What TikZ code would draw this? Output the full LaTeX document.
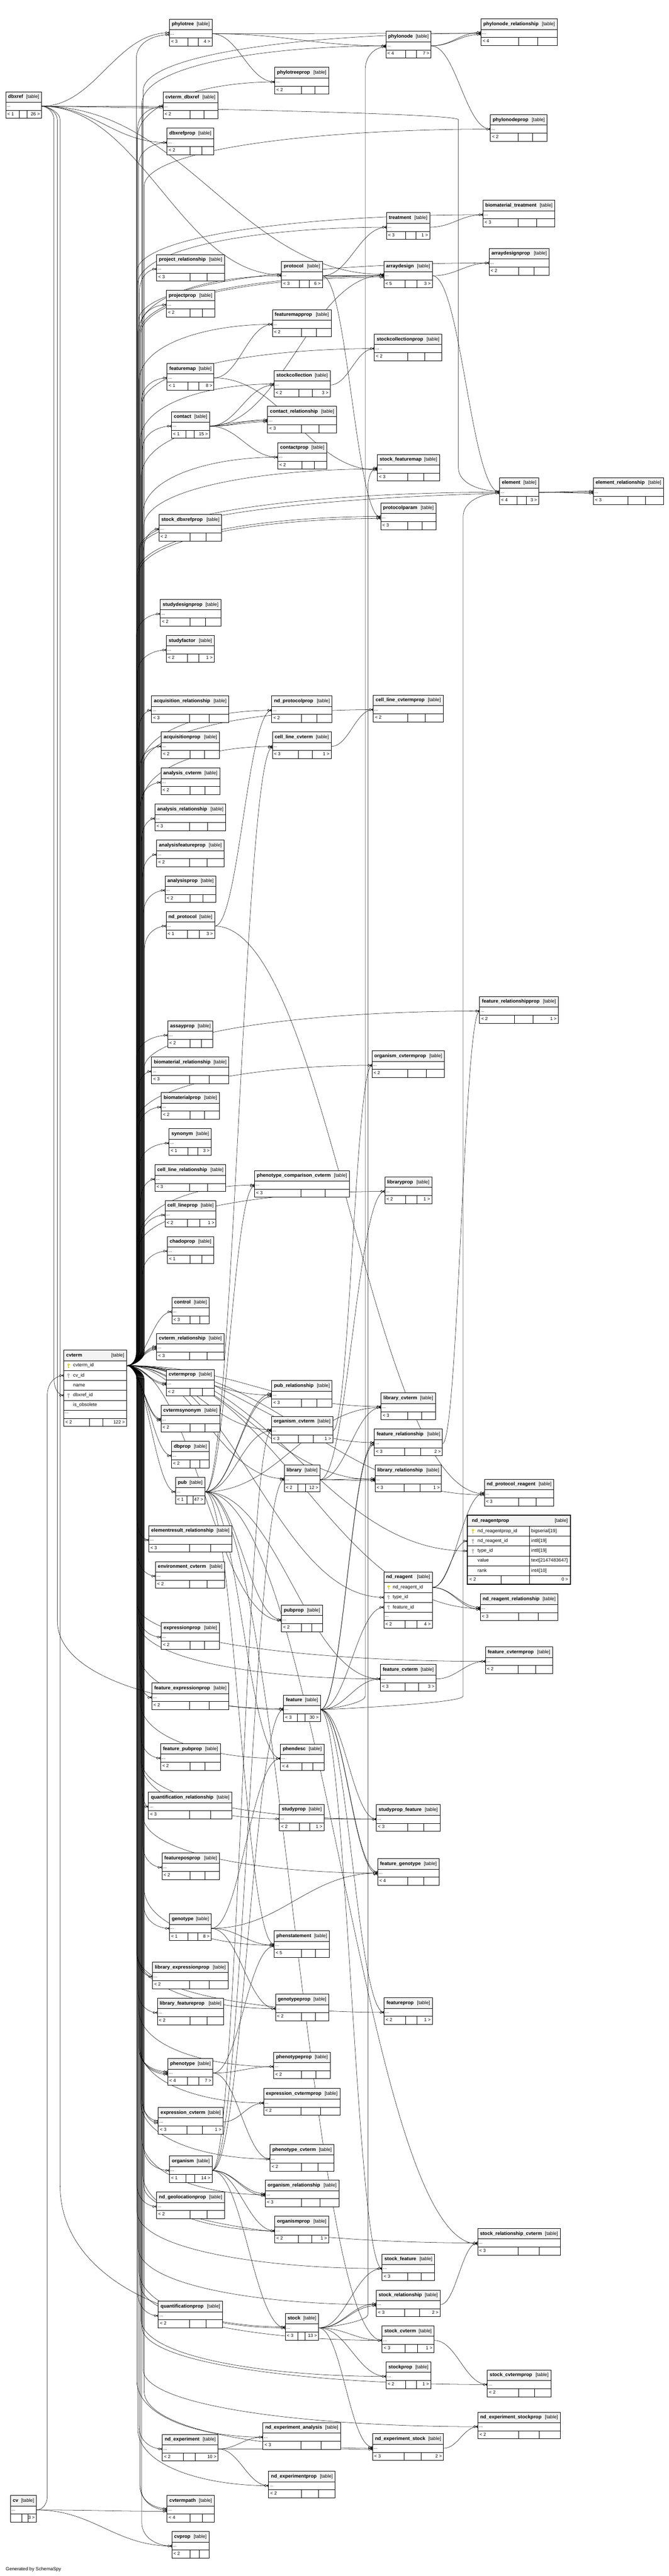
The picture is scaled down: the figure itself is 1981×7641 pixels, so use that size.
\documentclass[tikz,border=0pt]{standalone}
\usepackage{fontspec}
\setmainfont{Liberation Sans}
\usetikzlibrary{calc}
\pgfdeclarelayer{background}
\pgfsetlayers{background,main}
\definecolor{hdrgray}{RGB}{243,243,243}
\definecolor{keyyellow}{RGB}{214,204,18}
\definecolor{keygray}{RGB}{168,168,168}
\tikzset{
  every node/.style={inner sep=0pt, outer sep=0pt},
  ttl/.style={font=\fontsize{14.5}{17}\selectfont\bfseries, anchor=west, text height=10.5pt, text depth=3pt},
  tagtext/.style={font=\fontsize{14}{17}\selectfont, anchor=east, text height=10.5pt, text depth=3pt},
  celltext/.style={font=\fontsize{13.5}{16}\selectfont, text height=10pt, text depth=3pt},
  coltext/.style={font=\fontsize{14}{16}\selectfont, anchor=west, text height=10pt, text depth=3pt},
  tblborder/.style={draw=black, line width=1.3pt},
  cellline/.style={draw=black, line width=1pt},
  fk/.style={draw=black, line width=0.8pt},
  crowfoot/.pic={
    \draw[line width=0.9pt] (-6,0) -- (0,-3.6) (-6,0) -- (0,3.6) (-6,0) -- (0,0);
    \draw[line width=0.9pt, fill=white] (-9.5,0) circle (3);
  },
  pkey/.pic={
    \fill[keyyellow] (0,-3) circle (3.3);
    \fill[white] (0,-3.5) circle (1.1);
    \draw[keyyellow, line width=1.7pt] (0,-0.5) -- (0,7);
    \draw[keyyellow, line width=1.3pt] (0,3.5) -- (2.4,3.5) (0,6) -- (2,6);
  },
  fkey/.pic={
    \fill[keygray] (0,-3) circle (3.3);
    \fill[white] (0,-3.5) circle (1.1);
    \draw[keygray, line width=1.7pt] (0,-0.5) -- (0,7);
    \draw[keygray, line width=1.3pt] (0,3.5) -- (2.4,3.5) (0,6) -- (2,6);
  }
}
% table: #1 name, #2 left x, #3 top y, #4 width, #5 parents, #6 children
\newcommand\tbl[6]{%
  \def\tblR{#6}\def\tblL{#5}%
  \ifx\tblR\empty\def\tblfa{0.49}\def\tblfb{0.745}\else
    \ifnum#6>9 \def\tblfa{0.38}\def\tblfb{0.59}\else\def\tblfa{0.44}\def\tblfb{0.68}\fi\fi
  \node[fill=white, minimum width=#4pt, minimum height=79pt, anchor=north west] (#1) at (#2,#3) {};
  \fill[hdrgray] (#2,#3) rectangle ++(#4,31);
  \draw[cellline] (#2,{#3+31}) -- ++(#4,0) (#2,{#3+55}) -- ++(#4,0)
     ({#2+\tblfa*#4},{#3+55}) -- ++(0,24) ({#2+\tblfb*#4},{#3+55}) -- ++(0,24);
  \draw[tblborder] (#2,#3) rectangle ++(#4,79);
  \node[ttl] at ({#2+7},{#3+15.5}) {#1};
  \node[tagtext] at ({#2+#4-7},{#3+15.5}) {[table]};
  \node[celltext, anchor=west] at ({#2+3},{#3+42}) {...};
  \ifx\tblL\empty\else\node[celltext, anchor=west] at ({#2+5},{#3+67}) {< #5};\fi
  \ifx\tblR\empty\else\node[celltext, anchor=east] at ({#2+#4-5},{#3+67}) {#6 >};\fi
  \coordinate (#1-in) at (#2,{#3+43});
  \coordinate (#1-out) at ({#2+#4},{#3+43});
}
% connector between two named coordinates
\newcommand\fkraw[3][0]{%
  \draw[fk] let \p1=(#2), \p2=($(#3)+(0,#1)$), \n1={max(35,0.42*abs(\x2-\x1))} in
    (\p1) .. controls +(\n1,0) and +(-\n1,0) .. (\p2) pic {crowfoot};}
\newcommand\fk[3][0]{\fkraw[#1]{#2-out}{#3-in}}
% connector running along a vertical lane at x=#4, approach length #5
\newcommand\lane[5][0]{%
  \draw[fk] let \p1=(#2), \p2=($(#3)+(0,#1)$), \n1={ifthenelse(\y2>\y1,1,-1)} in
    (\p1) .. controls ({\x1+18},\y1) and ({#4pt},{\y1+(\n1)*18}) .. ({#4pt},{\y1+(\n1)*40})
    -- ({#4pt},{\y2-(\n1)*#5})
    .. controls ({#4pt},{\y2-(\n1)*#5*0.35}) and ({0.5*(\x2+#4pt)},\y2) .. (\p2) pic {crowfoot};}
\newcommand\cvl[3][0]{\lane[#1]{cvterm-out}{#2-in}{#3}{70}}
\newcommand\cvf[3][0]{\lane[#1]{cvterm-out}{#2-in}{#3}{170}}

\begin{document}
\catcode`\_=12
\begin{tikzpicture}[x=1pt,y=-1pt]
\useasboundingbox (0,0) rectangle (1981,7641);

% ---------------- tables ----------------
\tbl{dbxref}{17}{272}{106}{1}{26}
\tbl{phylotree}{502}{57}{126}{3}{4}
\tbl{phylotreeprop}{814}{200}{160}{2}{}
\tbl{cvterm_dbxref}{483}{273}{162}{2}{}
\tbl{dbxrefprop}{495}{380}{138}{2}{}
\tbl{project_relationship}{464}{755}{201}{3}{}
\tbl{projectprop}{493}{861}{143}{2}{}
\tbl{protocol}{834}{775}{121}{3}{6}
\tbl{featuremapprop}{807}{919}{174}{2}{}
\tbl{featuremap}{495}{1078}{139}{1}{8}
\tbl{stockcollection}{812}{1099}{166}{2}{3}
\tbl{contact}{508}{1221}{113}{1}{15}
\tbl{contact_relationship}{793}{1205}{204}{3}{}
\tbl{phylonode_relationship}{1425}{56}{226}{4}{}
\tbl{phylonode}{1143}{93}{134}{4}{7}
\tbl{phylonodeprop}{1453}{340}{168}{2}{}
\tbl{biomaterial_treatment}{1431}{594}{213}{3}{}
\tbl{treatment}{1145}{631}{128}{3}{1}
\tbl{arraydesignprop}{1449}{737}{178}{2}{}
\tbl{arraydesign}{1137}{775}{144}{5}{3}
\tbl{stockcollectionprop}{1109}{991}{200}{2}{}
\tbl{contactprop}{823}{1313}{145}{2}{}
\tbl{stock_featuremap}{1118}{1348}{184}{3}{}
\tbl{element}{1480}{1417}{116}{4}{3}
\tbl{element_relationship}{1758}{1417}{208}{3}{}
\tbl{protocolparam}{1128}{1492}{164}{3}{}
\tbl{stock_dbxrefprop}{471}{1526}{186}{2}{}
\tbl{studydesignprop}{475}{1778}{179}{2}{}
\tbl{studyfactor}{493}{1885}{142}{2}{1}
\tbl{acquisition_relationship}{449}{2064}{229}{3}{}
\tbl{nd_protocolprop}{805}{2064}{179}{2}{}
\tbl{cell_line_cvtermprop}{1106}{2062}{207}{2}{}
\tbl{acquisitionprop}{478}{2171}{172}{2}{}
\tbl{cell_line_cvterm}{807}{2171}{174}{3}{1}
\tbl{analysis_cvterm}{477}{2278}{174}{2}{}
\tbl{analysis_relationship}{459}{2385}{210}{3}{}
\tbl{analysisfeatureprop}{464}{2492}{200}{2}{}
\tbl{analysisprop}{489}{2598}{151}{2}{}
\tbl{nd_protocol}{492}{2704}{144}{1}{3}
\tbl{feature_relationshipprop}{1421}{2956}{233}{2}{1}
\tbl{assayprop}{497}{3028}{134}{2}{}
\tbl{organism_cvtermprop}{1102}{3117}{215}{2}{}
\tbl{biomaterial_relationship}{449}{3135}{229}{3}{}
\tbl{biomaterialprop}{478}{3241}{172}{2}{}
\tbl{synonym}{501}{3348}{125}{1}{3}
\tbl{cell_line_relationship}{459}{3455}{210}{3}{}
\tbl{phenotype_comparison_cvterm}{754}{3472}{281}{3}{}
\tbl{libraryprop}{1140}{3491}{139}{2}{1}
\tbl{cell_lineprop}{489}{3561}{151}{2}{1}
\tbl{chadoprop}{496}{3668}{137}{1}{}
\tbl{control}{509}{3848}{111}{3}{}
\tbl{cvterm_relationship}{464}{3955}{200}{3}{}
\tbl{cvtermprop}{493}{4062}{142}{2}{}
\tbl{pub_relationship}{805}{4095}{179}{3}{}
\tbl{library_cvterm}{1129}{4132}{161}{3}{}
\tbl{cvtermsynonym}{477}{4168}{174}{2}{}
\tbl{organism_cvterm}{804}{4201}{182}{3}{1}
\tbl{feature_relationship}{1109}{4239}{202}{3}{2}
\tbl{dbprop}{508}{4275}{112}{2}{}
\tbl{library}{842}{4346}{106}{2}{12}
\tbl{library_relationship}{1111}{4346}{197}{3}{1}
\tbl{pub}{520}{4382}{87}{1}{47}
\tbl{nd_protocol_reagent}{1435}{4388}{206}{3}{}
\tbl{elementresult_relationship}{441}{4525}{246}{3}{}
\tbl{environment_cvterm}{461}{4632}{205}{2}{}
\tbl{nd_reagent_relationship}{1423}{4728}{230}{3}{}
\tbl{pubprop}{834}{4761}{121}{2}{}
\tbl{expressionprop}{478}{4813}{172}{2}{}
\tbl{feature_cvtermprop}{1438}{4885}{199}{2}{}
\tbl{feature_cvterm}{1127}{4937}{165}{3}{3}
\tbl{feature_expressionprop}{450}{4992}{228}{2}{}
\tbl{feature}{840}{5028}{109}{3}{30}
\tbl{feature_pubprop}{476}{5172}{177}{2}{}
\tbl{phendesc}{831}{5173}{129}{4}{}
\tbl{quantification_relationship}{440}{5316}{247}{3}{}
\tbl{studyprop}{828}{5352}{132}{2}{1}
\tbl{studyprop_feature}{1115}{5353}{189}{3}{}
\tbl{featureposprop}{480}{5496}{170}{2}{}
\tbl{feature_genotype}{1119}{5513}{182}{4}{}
\tbl{genotype}{502}{5677}{124}{1}{8}
\tbl{phenstatement}{812}{5727}{164}{5}{}
\tbl{library_expressionprop}{452}{5820}{224}{2}{}
\tbl{genotypeprop}{816}{5915}{158}{2}{}
\tbl{featureprop}{1138}{5926}{143}{2}{1}
\tbl{library_featureprop}{466}{5927}{197}{2}{}
\tbl{phenotypeprop}{811}{6087}{167}{2}{}
\tbl{phenotype}{497}{6106}{134}{4}{7}
\tbl{expression_cvtermprop}{781}{6195}{226}{2}{}
\tbl{expression_cvterm}{469}{6251}{192}{3}{1}
\tbl{phenotype_cvterm}{800}{6361}{190}{2}{}
\tbl{organism}{502}{6395}{126}{1}{14}
\tbl{organism_relationship}{786}{6467}{218}{3}{}
\tbl{nd_geolocationprop}{464}{6502}{201}{2}{}
\tbl{organismprop}{814}{6574}{160}{2}{1}
\tbl{stock_relationship_cvterm}{1415}{6610}{245}{3}{}
\tbl{stock_feature}{1132}{6686}{156}{3}{}
\tbl{stock_relationship}{1115}{6793}{189}{3}{2}
\tbl{quantificationprop}{469}{6826}{190}{2}{}
\tbl{stock}{845}{6862}{99}{3}{13}
\tbl{stock_cvterm}{1132}{6899}{154}{3}{1}
\tbl{stockprop}{1144}{7006}{132}{2}{1}
\tbl{stock_cvtermprop}{1444}{7030}{188}{2}{}
\tbl{nd_experiment_stockprop}{1416}{7155}{244}{2}{}
\tbl{nd_experiment_analysis}{779}{7186}{230}{3}{}
\tbl{nd_experiment_stock}{1104}{7219}{210}{3}{2}
\tbl{nd_experiment}{481}{7221}{165}{2}{10}
\tbl{nd_experimentprop}{796}{7330}{197}{2}{}
\tbl{cv}{31}{7402}{77}{}{3}
\tbl{cvtermpath}{495}{7402}{140}{4}{}
\tbl{cvprop}{509}{7509}{110}{2}{}

% ---- cvterm (with columns) ----
\node[fill=white, minimum width=186pt, minimum height=226pt, anchor=north west] (cvterm) at (189,4005) {};
\fill[hdrgray] (189,4005) rectangle ++(186,31);
\foreach \yy in {31,60.4,89.8,119.2,148.6,178,202} \draw[cellline] (189,{4005+\yy}) -- ++(186,0);
\draw[cellline] (265,4207) -- (265,4231) (304,4207) -- (304,4231);
\draw[tblborder] (189,4005) rectangle ++(186,226);
\node[ttl] at (196,4020.5) {cvterm};
\node[tagtext] at (368,4020.5) {[table]};
\pic at (203,4050.7) {pkey};
\node[coltext] at (217,4050.7) {cvterm_id};
\pic at (203,4080.1) {fkey};
\node[coltext] at (217,4080.1) {cv_id};
\node[coltext] at (217,4109.5) {name};
\pic at (203,4138.9) {fkey};
\node[coltext] at (217,4138.9) {dbxref_id};
\node[coltext] at (217,4168.3) {is_obsolete};
\node[celltext, anchor=west] at (192,4189) {...};
\node[celltext, anchor=west] at (194,4219) {< 2};
\node[celltext, anchor=east] at (370,4219) {122 >};
\coordinate (cvterm-out) at (375,4050.7);
\coordinate (cvterm-cv) at (189,4080.1);
\coordinate (cvterm-dbx) at (189,4138.9);

% ---- nd_reagent (with columns) ----
\node[fill=white, minimum width=144pt, minimum height=167.2pt, anchor=north west] (nd_reagent) at (1137,4663) {};
\fill[hdrgray] (1137,4663) rectangle ++(144,31);
\foreach \yy in {31,60.4,89.8,119.2,143.2} \draw[cellline] (1137,{4663+\yy}) -- ++(144,0);
\draw[cellline] (1200,4806.2) -- (1200,4830.2) (1235,4806.2) -- (1235,4830.2);
\draw[tblborder] (1137,4663) rectangle ++(144,167.2);
\node[ttl] at (1144,4678.5) {nd_reagent};
\node[tagtext] at (1274,4678.5) {[table]};
\pic at (1151,4708.7) {pkey};
\node[coltext] at (1164,4708.7) {nd_reagent_id};
\pic at (1151,4738.1) {fkey};
\node[coltext] at (1164,4738.1) {type_id};
\pic at (1151,4767.5) {fkey};
\node[coltext] at (1164,4767.5) {feature_id};
\node[celltext, anchor=west] at (1140,4793) {...};
\node[celltext, anchor=west] at (1142,4818) {< 2};
\node[celltext, anchor=east] at (1276,4818) {4 >};
\coordinate (nd_reagent-out) at (1281,4708.7);
\coordinate (ndr-type) at (1137,4738.1);
\coordinate (ndr-feat) at (1137,4767.5);

% ---- nd_reagentprop (focus table) ----
\node[fill=white, minimum width=305pt, minimum height=204.5pt, anchor=north west] (nd_reagentprop) at (1385,4494) {};
\fill[hdrgray] (1385,4494) rectangle ++(305,33);
\foreach \yy in {33,62.4,91.8,121.2,150.6,180} \draw[cellline] (1385,{4494+\yy}) -- ++(305,0);
\draw[cellline] (1569,4527) -- (1569,4698.5) (1484,4674) -- (1484,4698.5);
\draw[draw=black, line width=3pt] (1385,4494) rectangle ++(305,204.5);
\node[ttl] at (1398,4510.5) {nd_reagentprop};
\node[tagtext] at (1682,4510.5) {[table]};
\pic at (1401,4541.7) {pkey};
\node[coltext] at (1415,4541.7) {nd_reagentprop_id};
\node[coltext] at (1574,4541.7) {bigserial[19]};
\pic at (1401,4571.1) {fkey};
\node[coltext] at (1415,4571.1) {nd_reagent_id};
\node[coltext] at (1574,4571.1) {int8[19]};
\pic at (1401,4600.5) {fkey};
\node[coltext] at (1415,4600.5) {type_id};
\node[coltext] at (1574,4600.5) {int8[19]};
\node[coltext] at (1415,4629.9) {value};
\node[coltext] at (1574,4629.9) {text[2147483647]};
\node[coltext] at (1415,4659.3) {rank};
\node[coltext] at (1574,4659.3) {int4[10]};
\node[celltext, anchor=west] at (1391,4686.3) {< 2};
\node[celltext, anchor=east] at (1683,4686.3) {0 >};
\coordinate (ndrp-rg) at (1385,4571.1);
\coordinate (ndrp-type) at (1385,4600.5);

\node[font=\fontsize{14}{16}\selectfont, anchor=west] (credit) at (17,7621) {Generated by SchemaSpy};

% ---------------- connectors ----------------
\begin{pgfonlayer}{background}
\fill[white] (0,0) rectangle (1981,7641);

% dbxref
\fk[-3]{dbxref}{phylotree}
\fk{dbxref}{cvterm_dbxref}
\fk{dbxref}{dbxrefprop}
\fk[-3]{dbxref}{protocol}
\fk[-4]{dbxref}{arraydesign}
\lane[-3]{dbxref-out}{element-in}{1358}{70}
\lane{dbxref-out}{cvterm-dbx}{160}{50}
\lane[-3]{dbxref-out}{feature-in}{170}{260}
\lane[-3]{dbxref-out}{stock-in}{178}{420}

% cv
\lane{cv-out}{cvterm-cv}{140}{60}
\fk[4]{cv}{cvtermpath}
\fk{cv}{cvprop}

% cvterm -> left column
\cvl[3]{phylotree}{404}
\cvl{cvterm_dbxref}{407}
\cvl{dbxrefprop}{410}
\cvl{project_relationship}{413}
\cvl{projectprop}{416}
\cvl{featuremap}{419}
\cvl{contact}{422}
\cvl{stock_dbxrefprop}{425}
\cvl{studydesignprop}{404}
\cvl{studyfactor}{407}
\cvl{acquisition_relationship}{410}
\cvl{acquisitionprop}{413}
\cvl{analysis_cvterm}{416}
\cvl{analysis_relationship}{419}
\cvl{analysisfeatureprop}{422}
\cvl{analysisprop}{425}
\cvl{nd_protocol}{428}
\cvl{assayprop}{404}
\cvl{biomaterial_relationship}{407}
\cvl{biomaterialprop}{410}
\cvl{synonym}{413}
\cvl{cell_line_relationship}{416}
\cvl{cell_lineprop}{419}
\cvl{chadoprop}{422}
\cvl{elementresult_relationship}{405}
\cvl{environment_cvterm}{408}
\cvl{expressionprop}{411}
\cvl{feature_expressionprop}{414}
\cvl{feature_pubprop}{417}
\cvl{quantification_relationship}{420}
\cvl{featureposprop}{423}
\cvl{genotype}{426}
\cvl{library_expressionprop}{405}
\cvl{library_featureprop}{408}
\cvl[-4]{phenotype}{411}
\cvl{phenotype}{414}
\cvl[4]{phenotype}{417}
\cvl[-3]{expression_cvterm}{420}
\cvl[3]{expression_cvterm}{423}
\cvl{organism}{426}
\cvl{nd_geolocationprop}{405}
\cvl{quantificationprop}{408}
\cvl{nd_experiment}{411}
\cvl[-4]{cvtermpath}{414}
\cvl{cvtermpath}{417}
\cvl{cvprop}{420}

% cvterm -> near tables
\fk{cvterm}{control}
\fk[-4]{cvterm}{cvterm_relationship}
\fk{cvterm}{cvterm_relationship}
\fk[4]{cvterm}{cvterm_relationship}
\fk[-2]{cvterm}{cvtermprop}
\fk[2]{cvterm}{cvtermprop}
\fk[-2]{cvterm}{cvtermsynonym}
\fk[2]{cvterm}{cvtermsynonym}
\fk{cvterm}{dbprop}
\fk{cvterm}{pub}
\fk{cvterm}{pub_relationship}
\fk[-3]{cvterm}{library_cvterm}
\fk[-3]{cvterm}{organism_cvterm}
\fk[-3]{cvterm}{feature_relationship}
\fk[-3]{cvterm}{library}
\fk{cvterm}{library_relationship}
\fk[3]{cvterm}{nd_protocol_reagent}
\fkraw{cvterm-out}{ndrp-type}
\fkraw{cvterm-out}{ndr-type}
\fk{cvterm}{nd_reagent_relationship}
\fk[3]{cvterm}{pubprop}

% cvterm -> far tables above
\cvf{phylotreeprop}{406}
\cvf{protocol}{409}
\cvf{featuremapprop}{412}
\cvf[-3]{stockcollection}{415}
\cvf{contact_relationship}{418}
\cvf{phylonode}{421}
\cvf{phylonode_relationship}{424}
\cvf{phylonodeprop}{427}
\cvf{biomaterial_treatment}{405}
\cvf{treatment}{408}
\cvf{arraydesignprop}{411}
\cvf{arraydesign}{414}
\cvf[4]{arraydesign}{417}
\cvf{stockcollectionprop}{420}
\cvf{contactprop}{423}
\cvf{stock_featuremap}{426}
\cvf[-3]{protocolparam}{406}
\cvf[3]{protocolparam}{409}
\cvf{element}{412}
\cvf{element_relationship}{415}
\cvf{nd_protocolprop}{418}
\cvf{cell_line_cvterm}{421}
\cvf{cell_line_cvtermprop}{424}
\cvf{feature_relationshipprop}{427}
\cvf{organism_cvtermprop}{405}
\cvf{phenotype_comparison_cvterm}{408}
\cvf{libraryprop}{411}

% cvterm -> far tables below
\cvf{feature_cvtermprop}{406}
\cvf{feature_cvterm}{409}
\cvf{feature}{412}
\cvf{phendesc}{415}
\cvf{studyprop}{418}
\cvf{studyprop_feature}{421}
\cvf{feature_genotype}{424}
\cvf{phenstatement}{427}
\cvf{genotypeprop}{405}
\cvf{featureprop}{408}
\cvf{phenotypeprop}{411}
\cvf{expression_cvtermprop}{414}
\cvf{phenotype_cvterm}{417}
\cvf{organism_relationship}{420}
\cvf{organismprop}{423}
\cvf{stock_relationship_cvterm}{426}
\cvf{stock_feature}{406}
\cvf{stock_relationship}{409}
\cvf{stock}{412}
\cvf{stock_cvterm}{415}
\cvf{stockprop}{418}
\cvf{stock_cvtermprop}{421}
\cvf{nd_experiment_stockprop}{424}
\cvf{nd_experiment_stock}{427}
\cvf{nd_experiment_analysis}{405}
\cvf{nd_experimentprop}{408}

% pub
\fk[-4]{pub}{pub_relationship}
\fk[4]{pub}{pub_relationship}
\fk{pub}{pubprop}
\fk{pub}{organism_cvterm}
\fk{pub}{library_cvterm}
\fk[3]{pub}{cell_line_cvterm}
\fk{pub}{phendesc}
\fk[-3]{pub}{phenstatement}
\fk{pub}{feature_cvterm}
\fk{pub}{stock_cvterm}
\fk[3]{pub}{stock_relationship_cvterm}
\fk[3]{pub}{phenotype_comparison_cvterm}

% contact
\fk[-3]{contact}{contact_relationship}
\fk[3]{contact}{contact_relationship}
\fk{contact}{contactprop}
\fk{contact}{stockcollection}
\fk[-2]{contact}{arraydesign}

% protocol
\fk{protocol}{treatment}
\fk{protocol}{arraydesign}
\fk{protocol}{protocolparam}

% phylotree / phylonode
\fk{phylotree}{phylonode}
\fk{phylotree}{phylotreeprop}
\fk{phylotree}{phylonode_relationship}
\fk[-3]{phylonode}{phylonode_relationship}
\fk[3]{phylonode}{phylonode_relationship}
\fk{phylonode}{phylonodeprop}
\lane[3]{feature-out}{phylonode-in}{1082}{70}

% misc
\fk{treatment}{biomaterial_treatment}
\fk{arraydesign}{arraydesignprop}
\fk{arraydesign}{element}
\fk[-3]{element}{element_relationship}
\fk[3]{element}{element_relationship}
\fk{stockcollection}{stockcollectionprop}
\fk{featuremap}{featuremapprop}
\fk[3]{featuremap}{stock_featuremap}
\fk{nd_protocol}{nd_protocolprop}
\fk{nd_protocol}{nd_protocol_reagent}
\fk{cell_line_cvterm}{cell_line_cvtermprop}
\fk{organism_cvterm}{organism_cvtermprop}
\fk{expression_cvterm}{expression_cvtermprop}
\fk{studyprop}{studyprop_feature}

% nd_reagent
\fk[-3]{nd_reagent}{nd_protocol_reagent}
\fkraw{nd_reagent-out}{ndrp-rg}
\fk[-3]{nd_reagent}{nd_reagent_relationship}
\fk[3]{nd_reagent}{nd_reagent_relationship}

% feature
\fkraw{feature-out}{ndr-feat}
\fk[-3]{feature}{feature_relationship}
\fk[3]{feature}{feature_relationship}
\fk{feature}{feature_cvterm}
\fk{feature}{featureprop}
\fk[-3]{feature}{feature_genotype}
\fk[3]{feature}{feature_genotype}
\fk{feature}{studyprop_feature}
\fk{feature}{stock_feature}
\lane[3]{feature-out}{element-in}{1372}{70}
\fk{feature_relationship}{feature_relationshipprop}
\fk{feature_cvterm}{feature_cvtermprop}

% library
\fk{library}{library_cvterm}
\fk[-3]{library}{library_relationship}
\fk[3]{library}{library_relationship}
\fk{library}{libraryprop}

% organism
\fk{organism}{organism_cvterm}
\fk[-3]{organism}{organism_relationship}
\fk[3]{organism}{organism_relationship}
\fk{organism}{organismprop}
\fk{organism}{feature}
\fk{organism}{stock}
\fk{organism}{library}

% genotype / phenotype
\fk{genotype}{phenstatement}
\fk{genotype}{genotypeprop}
\fk{genotype}{feature_genotype}
\fk{genotype}{phendesc}
\fk{phenotype}{phenotypeprop}
\fk{phenotype}{phenotype_cvterm}
\fk[3]{phenotype}{phenstatement}

% stock / nd_experiment
\lane[-3]{stock-out}{stock_featuremap-in}{1090}{60}
\fk{stock}{stock_feature}
\fk[-3]{stock}{stock_relationship}
\fk[3]{stock}{stock_relationship}
\fk{stock}{stock_cvterm}
\fk{stock}{stockprop}
\fk[-3]{stock}{nd_experiment_stock}
\fk{stock_cvterm}{stock_cvtermprop}
\fk{stock_relationship}{stock_relationship_cvterm}
\fk{nd_experiment}{nd_experiment_analysis}
\fk{nd_experiment}{nd_experimentprop}
\fk[3]{nd_experiment}{nd_experiment_stock}
\fk{nd_experiment_stock}{nd_experiment_stockprop}
\end{pgfonlayer}
\end{tikzpicture}
\end{document}
